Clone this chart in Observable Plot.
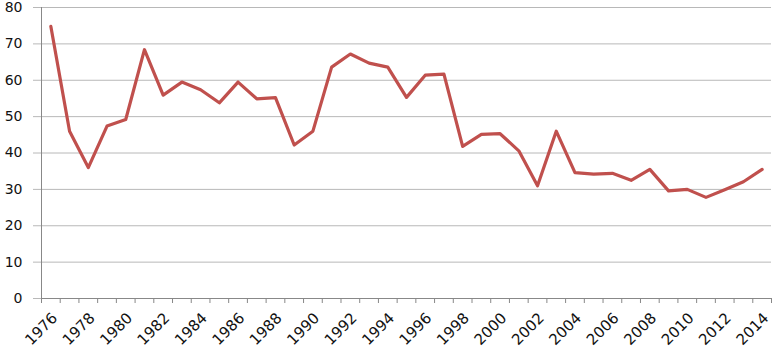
<!DOCTYPE html>
<html>
<head>
<meta charset="utf-8">
<script src="https://cdn.jsdelivr.net/npm/d3@7"></script>
<script src="https://cdn.jsdelivr.net/npm/@observablehq/plot@0.6"></script>
<style>
  html, body { margin: 0; padding: 0; background: #fff; }
  #chart { width: 772px; height: 349px; }
</style>
</head>
<body>
<div id="chart"></div>
<script>
const years = [1976,1977,1978,1979,1980,1981,1982,1983,1984,1985,1986,1987,1988,1989,1990,1991,1992,1993,1994,1995,1996,1997,1998,1999,2000,2001,2002,2003,2004,2005,2006,2007,2008,2009,2010,2011,2012,2013,2014];
const values = [74.8,46.0,36.0,47.4,49.2,68.4,55.9,59.5,57.4,53.8,59.5,54.9,55.2,42.2,46.0,63.6,67.2,64.7,63.6,55.3,61.4,61.7,41.8,45.1,45.3,40.6,31.0,46.0,34.6,34.2,34.4,32.5,35.5,29.6,30.0,27.8,29.9,32.1,35.5];
const yTicks = [0,10,20,30,40,50,60,70,80];
const xLabels = [1976,1978,1980,1982,1984,1986,1988,1990,1992,1994,1996,1998,2000,2002,2004,2006,2008,2010,2012,2014];

const data = years.map((year, i) => ({year, value: values[i]}));
const boundaries = years.map(y => y - 0.5).concat([years[years.length - 1] + 0.5]);

const chart = Plot.plot({
  width: 772,
  height: 349,
  marginLeft: 41,
  marginRight: 1,
  marginTop: 7,
  marginBottom: 51,
  style: {fontFamily: "DejaVu Sans", fontSize: "14px", color: "#000", background: "#fff"},
  x: {type: "linear", domain: [years[0] - 0.5, years[years.length - 1] + 0.5]},
  y: {domain: [0, 80]},
  marks: [
    Plot.gridY(yTicks, {stroke: "#b8b8b8", strokeOpacity: 1}),
    Plot.axisY(yTicks, {tickSize: 8, stroke: "#b8b8b8", tickPadding: 11, label: null, fill: "#111"}),
    Plot.ruleX([years[0] - 0.5], {stroke: "#888"}),
    Plot.ruleY([0], {stroke: "#888"}),
    Plot.axisX(boundaries, {tickSize: 5, text: null, stroke: "#888", label: null}),
    Plot.axisX(xLabels, {tickSize: 0, tickRotate: -45, tickPadding: 17, dx: 4, fontSize: 15, tickFormat: d => String(d), label: null, fill: "#111"}),
    Plot.line(data, {x: "year", y: "value", stroke: "#c0504d", strokeWidth: 3.2, strokeLinejoin: "round"})
  ]
});
document.getElementById("chart").appendChild(chart);
</script>
</body>
</html>
